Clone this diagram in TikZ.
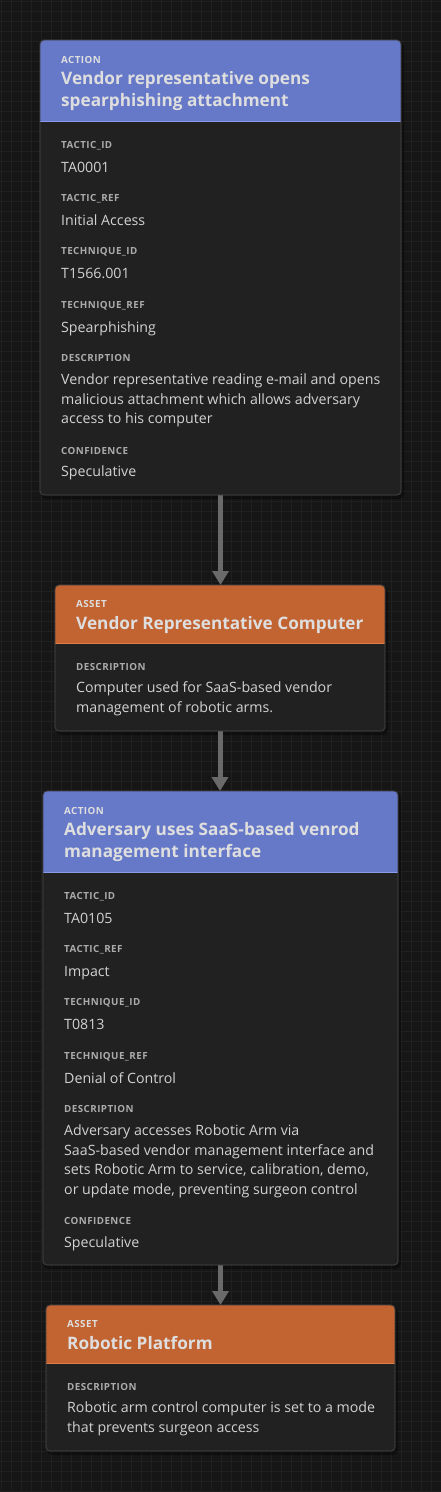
\documentclass[tikz,border=0pt]{standalone}
\usepackage{fontspec}
\setmainfont{Open Sans}
\newfontfamily\capsfont{Open Sans}[LetterSpace=4.5]
\usetikzlibrary{arrows.meta}
\definecolor{bg}{HTML}{161616}
\definecolor{gridc}{HTML}{202020}
\definecolor{cardbg}{HTML}{212121}
\definecolor{cardborder}{HTML}{3A3A3A}
\definecolor{actionc}{HTML}{6679C8}
\definecolor{actionline}{HTML}{8A9BEA}
\definecolor{assetc}{HTML}{C26332}
\definecolor{assetline}{HTML}{E07C45}
\definecolor{titlec}{HTML}{DEDEDE}
\definecolor{valc}{HTML}{D2D2D2}
\definecolor{labc}{HTML}{ABABAB}
\definecolor{arrowc}{HTML}{6A6A6A}
\tikzset{
 card/.style={draw=cardborder, line width=0.8pt, fill=cardbg, rounded corners=4pt, anchor=north west, inner sep=0pt, outer sep=0pt},
 lab/.style={anchor=base west, inner sep=0pt, text=labc, font=\capsfont\fontsize{9.8}{11}\selectfont\bfseries},
 val/.style={anchor=base west, inner sep=0pt, text=valc, font=\fontsize{14.2}{19.6}\selectfont},
 htag/.style={anchor=base west, inner sep=0pt, text=titlec, font=\capsfont\fontsize{9.8}{11}\selectfont\bfseries},
 htitle/.style={anchor=base west, inner sep=0pt, text=titlec, font=\fontsize{17.2}{22}\selectfont\bfseries},
 link/.style={draw=arrowc, line width=5pt, -{Triangle[width=16pt,length=14pt]}},
 shadowc/.style={fill=black, opacity=0.35, rounded corners=5pt},
}
\begin{document}
\begin{tikzpicture}[x=1pt,y=-1pt]
\useasboundingbox (0,0) rectangle (441,1492);
\fill[bg] (0,0) rectangle (441,1492);
\foreach \x in {1,11,...,441} \draw[gridc, line width=1pt] (\x,0) -- (\x,1492);
\foreach \y in {1,11,...,1491} \draw[gridc, line width=1pt] (0,\y) -- (441,\y);

% shadows
\fill[shadowc] (41,42) rectangle (404,499);
\fill[shadowc] (56,587) rectangle (388,735);
\fill[shadowc] (44,793) rectangle (401,1269);
\fill[shadowc] (47,1307) rectangle (398,1455);

% cards
\node[card, minimum width=361pt, minimum height=455pt] (c1) at (40,40) {};
\node[card, minimum width=330pt, minimum height=146pt] (c2) at (55,585) {};
\node[card, minimum width=355pt, minimum height=474pt] (c3) at (43,791) {};
\node[card, minimum width=349pt, minimum height=146pt] (c4) at (46,1305) {};

% connectors
\draw[link] (c1.south) -- (c1.south |- c2.north);
\draw[link] (c2.south) -- (c2.south |- c3.north);
\draw[link] (c3.south) -- (c3.south |- c4.north);

% headers
\begin{scope}
\clip[rounded corners=4pt] (40,40) rectangle (401,495);
\fill[actionc] (40,40) rectangle (401,121);
\draw[actionline, line width=1pt] (40,121) -- (401,121);
\end{scope}
\begin{scope}
\clip[rounded corners=4pt] (55,585) rectangle (385,731);
\fill[assetc] (55,585) rectangle (385,643);
\draw[assetline, line width=1pt] (55,643) -- (385,643);
\end{scope}
\begin{scope}
\clip[rounded corners=4pt] (43,791) rectangle (398,1265);
\fill[actionc] (43,791) rectangle (398,872);
\draw[actionline, line width=1pt] (43,872) -- (398,872);
\end{scope}
\begin{scope}
\clip[rounded corners=4pt] (46,1305) rectangle (395,1451);
\fill[assetc] (46,1305) rectangle (395,1363);
\draw[assetline, line width=1pt] (46,1363) -- (395,1363);
\end{scope}
\draw[cardborder, line width=0.8pt, rounded corners=4pt] (40,40) rectangle (401,495);
\draw[cardborder, line width=0.8pt, rounded corners=4pt] (55,585) rectangle (385,731);
\draw[cardborder, line width=0.8pt, rounded corners=4pt] (43,791) rectangle (398,1265);
\draw[cardborder, line width=0.8pt, rounded corners=4pt] (46,1305) rectangle (395,1451);

% card 1 text
\node[htag] (c1tag) at (61,63) {ACTION};
\node[htitle] (c1t1) at (61,84.3) {Vendor representative opens};
\node[htitle] (c1t2) at (61,106) {spearphishing attachment};
\node[lab] (c1l1) at (61,148) {TACTIC\_ID};
\node[val] (c1v1) at (61,172) {TA0001};
\node[lab] (c1l2) at (61,201) {TACTIC\_REF};
\node[val] (c1v2) at (61,225) {Initial Access};
\node[lab] (c1l3) at (61,254.5) {TECHNIQUE\_ID};
\node[val] (c1v3) at (61,278.5) {T1566.001};
\node[lab] (c1l4) at (61,308) {TECHNIQUE\_REF};
\node[val] (c1v4) at (61,332) {Spearphishing};
\node[lab] (c1l5) at (61,361.7) {DESCRIPTION};
\node[val] (c1v5a) at (61,384.3) {Vendor representative reading e-mail and opens};
\node[val] (c1v5b) at (61,404.1) {malicious attachment which allows adversary};
\node[val] (c1v5c) at (61,423.5) {access to his computer};
\node[lab] (c1l6) at (61,454) {CONFIDENCE};
\node[val] (c1v6) at (61,476.7) {Speculative};

% card 2 text
\node[htag] (c2tag) at (76,607.5) {ASSET};
\node[htitle] (c2t1) at (76,629.3) {Vendor Representative Computer};
\node[lab] (c2l1) at (76,670) {DESCRIPTION};
\node[val] (c2v1a) at (76,692.7) {Computer used for SaaS-based vendor};
\node[val] (c2v1b) at (76,712.5) {management of robotic arms.};

% card 3 text
\node[htag] (c3tag) at (64,814) {ACTION};
\node[htitle] (c3t1) at (64,835.5) {Adversary uses SaaS-based venrod};
\node[htitle] (c3t2) at (64,857.3) {management interface};
\node[lab] (c3l1) at (64,899) {TACTIC\_ID};
\node[val] (c3v1) at (64,923) {TA0105};
\node[lab] (c3l2) at (64,952) {TACTIC\_REF};
\node[val] (c3v2) at (64,976) {Impact};
\node[lab] (c3l3) at (64,1005.5) {TECHNIQUE\_ID};
\node[val] (c3v3) at (64,1029.5) {T0813};
\node[lab] (c3l4) at (64,1059) {TECHNIQUE\_REF};
\node[val] (c3v4) at (64,1083) {Denial of Control};
\node[lab] (c3l5) at (64,1112.7) {DESCRIPTION};
\node[val] (c3v5a) at (64,1135.3) {Adversary accesses Robotic Arm via};
\node[val] (c3v5b) at (64,1155.1) {SaaS-based vendor management interface and};
\node[val] (c3v5c) at (64,1174.7) {sets Robotic Arm to service, calibration, demo,};
\node[val] (c3v5d) at (64,1194.3) {or update mode, preventing surgeon control};
\node[lab] (c3l6) at (64,1224.8) {CONFIDENCE};
\node[val] (c3v6) at (64,1247.5) {Speculative};

% card 4 text
\node[htag] (c4tag) at (67,1327.7) {ASSET};
\node[htitle] (c4t1) at (67,1349) {Robotic Platform};
\node[lab] (c4l1) at (67,1390) {DESCRIPTION};
\node[val] (c4v1a) at (67,1412.7) {Robotic arm control computer is set to a mode};
\node[val] (c4v1b) at (67,1432.7) {that prevents surgeon access};
\end{tikzpicture}
\end{document}
